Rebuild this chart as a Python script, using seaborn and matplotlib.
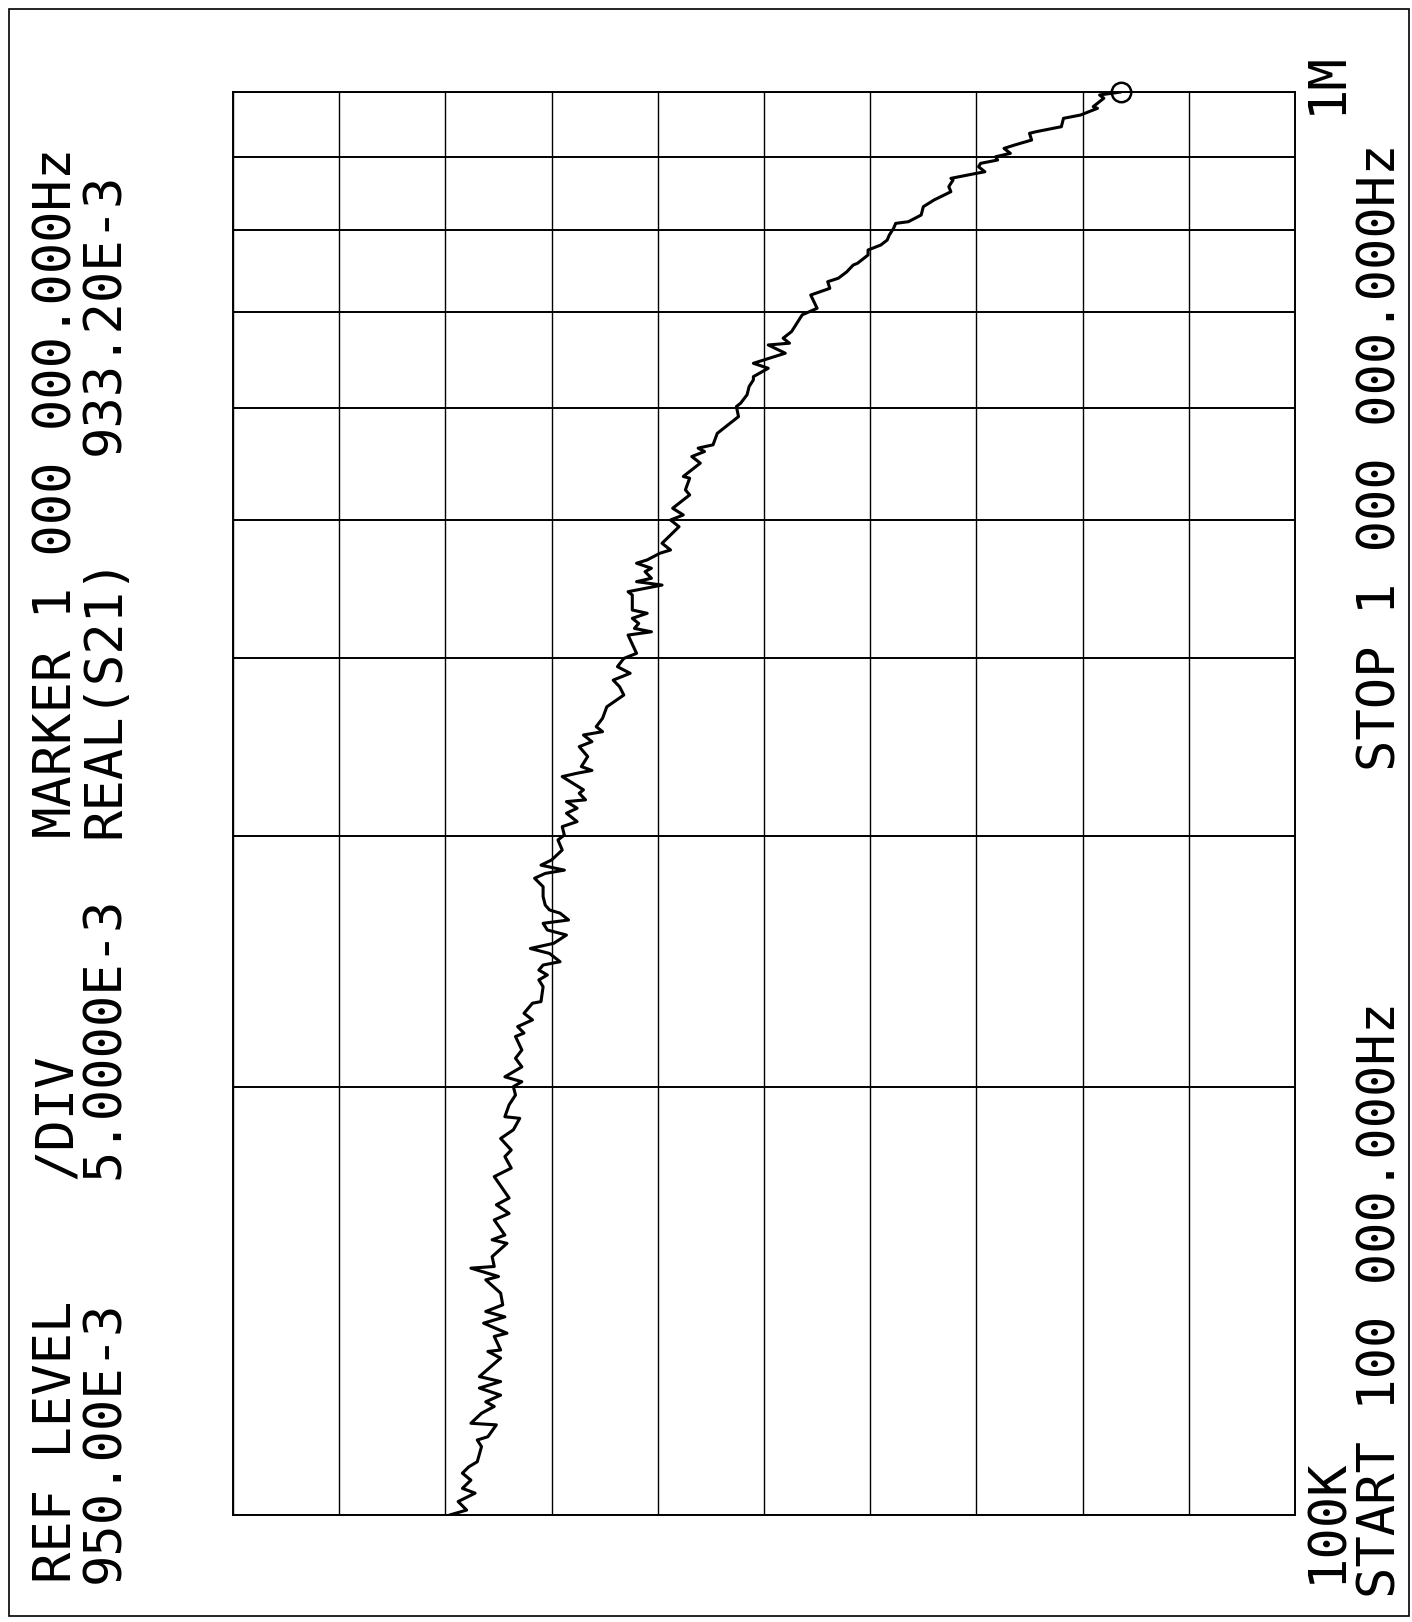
import numpy as np
import pandas as pd
import matplotlib
matplotlib.use("Agg")
import matplotlib.pyplot as plt
import seaborn as sns
from matplotlib.patches import Rectangle

# ── trace (frequency in kHz, Re(S21) in E-3) ──
freq_khz = [
    100.0, 100.8, 102.2, 103.6, 104.4, 105.8, 107.0, 108.1, 109.0, 111.7,
    112.9, 113.5, 115.7, 116.0, 117.9, 119.2, 120.1, 121.4, 122.8, 124.1,
    125.1, 128.9, 130.3, 130.6, 133.5, 134.2, 136.4, 137.8, 139.0, 140.5,
    143.2, 146.3,
    147.1, 149.1, 149.5, 151.9, 155.2, 156.1, 157.3, 161.2, 162.9, 165.2,
    167.0, 172.9, 175.3, 178.6, 180.5, 183.9, 186.5, 190.0, 190.5, 194.2,
    197.3, 200.0, 201.6, 203.2, 206.5, 209.4, 212.2,
    216.9, 218.1, 220.4, 222.8, 225.2, 228.9, 229.5, 235.1, 237.7, 239.6,
    241.5, 243.5, 244.8, 248.1, 250.1, 252.2, 255.6, 257.7, 260.5, 261.9,
    264.8, 266.2, 268.3, 272.0, 276.4, 280.2, 282.4, 283.9, 286.2, 288.6,
    293.3, 298.1, 300.5, 304.6,
    307.1, 311.3, 313.8, 317.2, 318.1, 321.5, 323.3, 330.3, 332.1, 333.6,
    335.7, 341.2, 346.7, 349.5, 353.3, 355.2, 358.1, 363.0, 369.8, 376.9,
    382.0, 386.1, 390.4, 394.6, 399.9, 403.2, 415.3, 417.5, 419.8, 423.2,
    426.7, 430.2, 432.5, 439.5,
    443.1, 445.5, 450.3, 452.8, 455.3, 460.2, 462.7, 466.5, 469.0, 474.1,
    476.6, 481.8, 494.9, 500.3, 504.4, 509.9, 521.0, 525.3, 535.3, 536.8,
    548.5, 554.4, 558.9, 562.0, 565.0, 575.6, 583.5, 591.4, 601.1, 604.4,
    612.6, 620.9, 627.6,
    630.9, 639.5, 644.7, 655.3, 664.1, 666.0, 671.4, 678.7, 697.3, 704.7,
    720.0, 727.8, 735.7, 739.8, 747.6, 755.8, 757.9, 768.2, 774.4, 780.7,
    787.0, 793.4, 802.0, 808.5, 810.7, 819.5, 830.6, 839.6, 851.0, 858.0,
    867.2,
    869.6, 876.7, 878.9, 886.1, 891.0, 895.8, 900.5, 905.5, 912.8, 917.8,
    925.2, 935.3, 937.7, 945.4, 958.3, 963.4, 973.9, 976.6, 989.9, 995.2,
    1000.0,
]
real_s21 = [
    964.8, 964.0, 964.4, 963.6, 964.2, 963.8, 964.2, 963.9, 963.5, 963.3,
    963.5, 963.0, 962.6, 963.8, 963.3, 962.7, 963.1, 962.4, 963.4, 962.4,
    963.4, 962.4, 963.0, 962.4, 962.7, 962.1, 963.2, 962.2, 963.1, 962.3,
    962.4, 963.1,
    962.5, 963.8, 962.7, 962.8, 962.1, 962.8, 962.2, 962.7, 962.0, 962.6,
    962.0, 962.7, 961.9, 962.2, 961.9, 962.4, 961.8, 961.5, 962.2, 962.0,
    961.7, 961.8, 961.4, 962.2, 961.4, 961.7, 961.4,
    961.7, 961.3, 961.6, 960.9, 961.3, 960.9, 960.5, 960.4, 960.6, 960.2,
    960.6, 960.4, 959.6, 960.1, 961.0, 959.9, 959.3, 960.2, 960.4, 959.2,
    959.6, 960.1, 960.3, 960.4, 960.4, 960.8, 960.3, 959.4, 960.5, 960.0,
    959.5, 959.7, 959.4, 959.5,
    958.8, 959.3, 958.8, 959.3, 958.4, 958.7, 958.5, 959.5, 958.8, 958.1,
    958.6, 958.3, 958.7, 958.1, 958.5, 957.6, 957.9, 957.6, 957.4, 956.6,
    956.8, 957.1, 956.3, 956.9, 956.6, 956.0, 956.4, 955.3, 956.1, 955.9,
    956.2, 955.5, 956.2, 956.2,
    956.2, 956.4, 954.8, 956.0, 955.3, 955.6, 955.3, 956.0, 955.5, 954.9,
    954.4, 954.8, 954.0, 954.4, 953.8, 954.3, 953.5, 953.7, 953.5, 953.8,
    953.0, 953.4, 952.8, 953.1, 952.4, 952.2, 951.7, 951.2, 951.3, 951.1,
    950.8, 950.7, 950.5,
    950.5, 949.8, 950.5, 949.0, 949.8, 948.8, 949.1, 948.7, 948.2, 947.5,
    947.8, 946.9, 947.0, 946.5, 946.1, 945.8, 945.6, 945.1, 945.1, 944.5,
    944.2, 944.1, 943.9, 943.8, 943.2, 942.6, 942.5, 942.0, 941.2, 941.3,
    941.1,
    941.2, 940.0, 939.6, 939.9, 939.8, 939.0, 939.1, 938.4, 938.7, 938.2,
    937.4, 937.5, 937.2, 936.0, 935.9, 935.1, 934.3, 934.5, 934.0, 934.2,
    933.2,
]

# graticule: 10 linear divisions of 5E-3 around REF 950E-3, log decade 100K..1M
grid_real = [925, 930, 935, 940, 945, 950, 955, 960, 965, 970, 975]
grid_freq = [100, 200, 300, 400, 500, 600, 700, 800, 900, 1000]

marker_freq = 1000.0
marker_real = 933.2

sns.set_theme(style="white")
plt.rcParams['font.family'] = ['DejaVu Sans Mono', 'DejaVu Sans']

W, H = 1412, 1622
fig = plt.figure(figsize=(W / 100, H / 100), dpi=100)
fig.patch.set_facecolor("white")

# page frame
fig.patches.append(Rectangle((9 / W, 1 - 1616 / H), 1400 / W, 1607 / H,
                             transform=fig.transFigure, fill=False,
                             edgecolor="black", lw=1.2))

ax = fig.add_axes([233 / W, 1 - 1515 / H, 1062 / W, 1423 / H])
ax.set_facecolor("white")

# ── graticule ────────────────────────────────────────────────────────────
for v in grid_real:
    ax.axvline(v, color="black", lw=1.0, zorder=1)
for f in grid_freq:
    ax.axhline(f, color="black", lw=1.4, zorder=1)

# ── trace (sheet is rotated: value runs right->left, frequency bottom->top) ─
df = pd.DataFrame({"freq": freq_khz, "real": real_s21})
sns.lineplot(data=df, x="real", y="freq", sort=False, estimator=None,
             color="black", lw=2.2, ax=ax, zorder=3)
ax.plot([marker_real], [marker_freq], marker="o", ms=14, mfc="none",
        mec="black", mew=1.8, zorder=4, clip_on=False)

ax.set_yscale("log")
ax.set_ylim(100, 1000)
ax.set_xlim(975, 925)
ax.set_xticks([])
ax.set_yticks([])
ax.set_yticks([], minor=True)
ax.set_xlabel("")
ax.set_ylabel("")
for s in ax.spines.values():
    s.set_color("black")
    s.set_linewidth(1.4)

# ── annotation text, rotated like the plotter output ─────────────────────
fs = 37.5
def rtext(x, y, s):
    fig.text(x / W, 1 - y / H, s, rotation=90, rotation_mode="anchor",
             ha="left", va="center", fontsize=fs, color="black")

rtext(57, 1583, "REF LEVEL")
rtext(105, 1583, "950.00E-3")
rtext(57, 1179, "/DIV")
rtext(105, 1179, "5.0000E-3")
rtext(57, 838, "MARKER 1 000 000.000Hz")
rtext(105, 838, "REAL(S21)")
rtext(105, 455, "933.20E-3")
rtext(1327, 1583, "100K")
rtext(1327, 114, "1M")
rtext(1382, 1598, "START 100 000.000Hz")
rtext(1382, 771, "STOP 1 000 000.000Hz")

fig.savefig("out.png", dpi=100)
